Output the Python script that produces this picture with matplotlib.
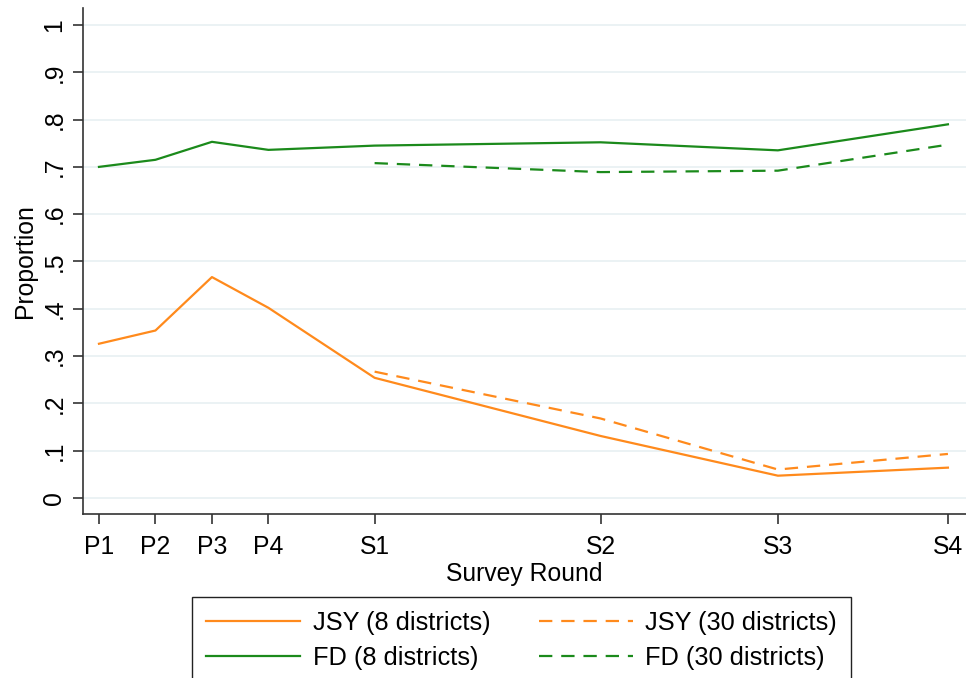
import matplotlib
matplotlib.use("Agg")
import matplotlib.pyplot as plt

plt.rcParams['font.family'] = ['Liberation Sans', 'DejaVu Sans']

# survey rounds (position on a time axis) and labels
round_labels = ['P1', 'P2', 'P3', 'P4', 'S1', 'S2', 'S3', 'S4']
round_time = [0, 1, 2, 3, 4.88, 8.88, 12.02, 15.03]

# 30-district rounds only cover S1-S4
s_labels = ['S1', 'S2', 'S3', 'S4']
s_time = [4.88, 8.88, 12.02, 15.03]

jsy_8 = [0.326, 0.354, 0.467, 0.402, 0.254, 0.131, 0.047, 0.064]
fd_8 = [0.700, 0.715, 0.753, 0.736, 0.745, 0.752, 0.735, 0.790]
jsy_30 = [0.267, 0.168, 0.060, 0.093]
fd_30 = [0.708, 0.689, 0.692, 0.747]

y_ticks = [0, 0.1, 0.2, 0.3, 0.4, 0.5, 0.6, 0.7, 0.8, 0.9, 1.0]
y_tick_labels = ['0', '.1', '.2', '.3', '.4', '.5', '.6', '.7', '.8', '.9', '1']

orange = '#ff8a1c'
green = '#1b8a1b'
grid_col = '#e8f0f2'
axis_col = '#333333'
fs = 17.8

fig = plt.figure(figsize=(9.66, 6.78), dpi=100)
ax = fig.add_axes([0.0859, 0.2419, 0.9141, 0.7463])

ax.plot(round_time, jsy_8, color=orange, lw=1.6, label='JSY (8 districts)')
ax.plot(s_time, jsy_30, color=orange, lw=1.6, dashes=(6, 4), label='JSY (30 districts)')
ax.plot(round_time, fd_8, color=green, lw=1.6, label='FD (8 districts)')
ax.plot(s_time, fd_30, color=green, lw=1.6, dashes=(6, 4), label='FD (30 districts)')

ax.set_xlim(-0.283, 15.35)
ax.set_ylim(-0.034, 1.036)
ax.set_xticks(round_time)
ax.set_xticklabels(round_labels)
ax.set_yticks(y_ticks)
ax.set_yticklabels(y_tick_labels, rotation=90, va='center')

ax.grid(axis='y', color=grid_col, lw=1.2)
ax.set_axisbelow(True)
for side in ['top', 'right']:
    ax.spines[side].set_visible(False)
for side in ['left', 'bottom']:
    ax.spines[side].set_color(axis_col)
    ax.spines[side].set_linewidth(1.2)
ax.tick_params(axis='x', direction='out', length=7, width=1.2, color=axis_col,
               labelsize=fs, pad=8)
ax.tick_params(axis='y', direction='out', length=7, width=1.2, color=axis_col,
               labelsize=fs, pad=5)

ax.set_xlabel('Survey Round', fontsize=fs, labelpad=2)
ax.set_ylabel('Proportion', fontsize=fs, labelpad=4)

handles, labels = ax.get_legend_handles_labels()
order = [0, 2, 1, 3]
leg = fig.legend([handles[i] for i in order], [labels[i] for i in order],
                 ncol=2, loc='upper center', bbox_to_anchor=(521.5 / 966, 1 - 597 / 678),
                 fontsize=18.3, handlelength=3.7, handletextpad=0.5,
                 columnspacing=1.9, labelspacing=0.42, fancybox=False,
                 borderpad=0.55, borderaxespad=0, framealpha=1)
leg.get_frame().set_edgecolor('#222222')
leg.get_frame().set_linewidth(1.0)

fig.savefig('out.png', dpi=100)
